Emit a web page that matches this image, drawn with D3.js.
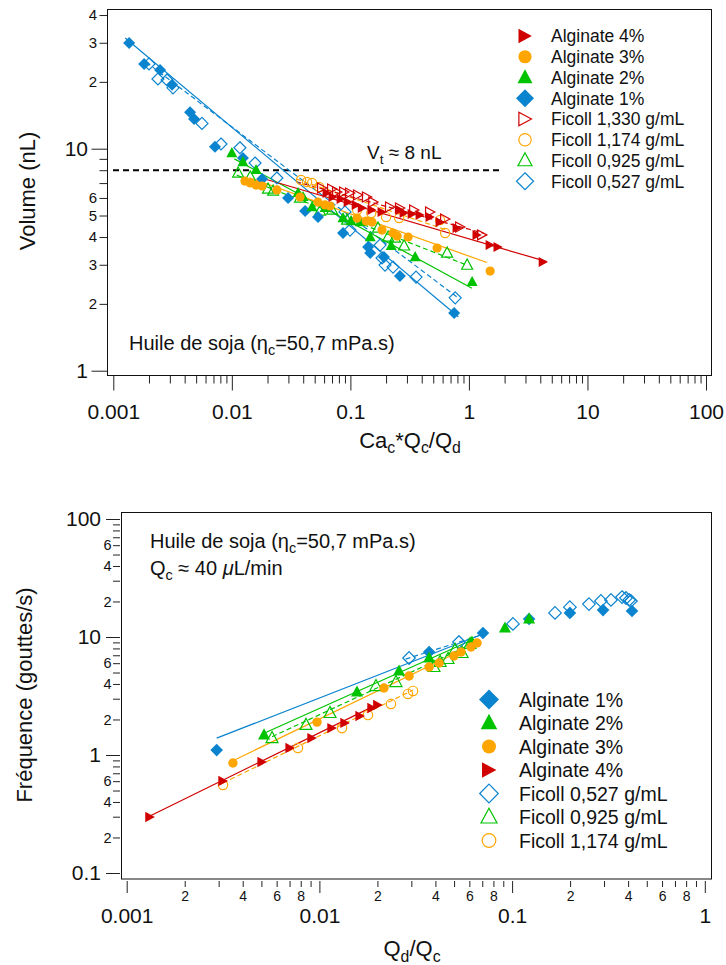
<!DOCTYPE html>
<html><head><meta charset="utf-8">
<script src="https://cdn.jsdelivr.net/npm/d3@7"></script>
<style>
body{margin:0;background:#fff}
svg{display:block}
text{font-family:"Liberation Sans",Arial,sans-serif;fill:#111}
</style>
</head><body>
<svg id="c" width="726" height="965"></svg>
<script>
// ================= DATA =================
// --- Top chart: Volume (nL) vs Ca_c*Q_c/Q_d ---
const topAlg1X = [0.00136,0.00182,0.00248,0.00313,0.00444,0.0048,0.00721,0.0124,0.018,0.0298,0.0415,0.0533,0.0867,0.141,0.147,0.192,0.262,0.75];
const topAlg1Y = [29.9,24.1,22.6,19.4,14.6,13.6,10.2,9.08,7.30,6.0,5.24,4.92,4.17,3.61,3.39,3.25,2.67,1.82];
const topFic527X = [0.0020,0.00238,0.00284,0.00319,0.0056,0.0081,0.0117,0.0157,0.0240,0.0901,0.0993,0.178,0.185,0.196,0.229,0.358,0.766];
const topFic527Y = [24.1,20.6,20.4,18.8,13.0,10.5,10.1,8.62,7.38,5.19,4.30,3.68,3.22,2.99,2.93,2.64,2.13];
const topAlg2X = [0.0100,0.0124,0.0160,0.0362,0.0399,0.0475,0.0612,0.0867,0.1014,0.121,0.147,0.221,0.352,1.064];
const topAlg2Y = [9.56,8.71,8.02,6.32,6.06,5.46,5.41,4.87,4.72,4.67,4.00,3.65,3.25,2.51];
const topFic925X = [0.0113,0.0143,0.0202,0.0223,0.0376,0.0555,0.0701,0.0938,0.171,0.208,0.238,0.284,0.655,0.966];
const topFic925Y = [7.77,7.46,6.58,6.45,6.0,5.24,5.29,4.77,4.39,4.00,3.96,3.65,3.39,2.99];
const topAlg3X = [0.0129,0.0143,0.0160,0.0180,0.0240,0.0376,0.0533,0.0612,0.0675,0.114,0.136,0.152,0.185,0.229,0.248,0.307,0.539,1.51];
const topAlg3Y = [7.15,7.01,6.86,6.79,6.52,6.06,5.75,5.58,5.52,4.87,4.72,4.67,4.30,4.17,4.04,4.00,3.57,2.81];
const topFic1174X = [0.0384,0.0431,0.0475,0.0545,0.114,0.150,0.200,0.258,0.571,0.630];
const topFic1174Y = [7.23,7.08,7.01,6.72,5.29,5.13,4.92,4.87,4.77,4.17];
const topAlg4X = [0.0636,0.0714,0.0835,0.0957,0.112,0.126,0.152,0.185,0.262,0.284,0.332,0.387,0.470,0.571,0.794,1.17,1.51,1.76,4.23];
const topAlg4Y = [6.32,6.06,5.93,5.75,5.58,5.41,5.29,5.19,5.29,5.13,5.08,5.03,4.92,4.67,4.39,4.09,3.68,3.61,3.09];
const topFic1330X = [0.0577,0.0701,0.0773,0.0885,0.0993,0.116,0.138,0.156,0.216,0.262,0.345,0.470,0.630,0.843,1.29];
const topFic1330Y = [6.65,6.58,6.38,6.38,6.32,6.19,6.06,5.75,5.46,5.41,5.29,5.19,4.82,4.44,4.09];
// power-law fit lines (end points, data units)
const fitTopAlg1 = [[0.00126,31.5],[0.815,1.75]];
const fitTopFic527 = [[0.0019,24.5],[0.79,2.15]];
const fitTopAlg2 = [[0.0105,9.0],[1.06,2.35]];
const fitTopFic925 = [[0.011,7.6],[0.96,2.99]];
const fitTopAlg3 = [[0.014,7.4],[1.42,3.07]];
const fitTopFic1174 = [[0.035,7.3],[0.65,4.3]];
const fitTopAlg4 = [[0.019,7.30],[4.54,3.10]];
const fitTopFic1330 = [[0.035,7.1],[1.33,4.16]];
const topVt = 8;

// --- Bottom chart: Fréquence (gouttes/s) vs Q_d/Q_c ---
const botAlg1X = [0.00293,0.0371,0.0706,0.1225,0.1995,0.2965,0.419];
const botAlg1Y = [1.10,7.46,10.8,14.2,16.0,16.9,16.6];
const botFic527X = [0.0292,0.0530,0.101,0.167,0.1995,0.2506,0.289,0.326,0.372,0.390,0.405,0.414];
const botFic527Y = [6.64,9.07,12.9,16.0,17.9,19.0,20.2,20.6,21.8,21.4,20.6,20.2];
const botAlg2X = [0.00516,0.01567,0.0259,0.0371,0.0619,0.0918,0.1225];
const botAlg2Y = [1.48,3.42,5.15,6.64,9.07,11.9,14.2];
const botFic925X = [0.00568,0.00852,0.01135,0.01966,0.02497,0.0393,0.0423,0.0465,0.0505,0.0550,0.0605];
const botFic925Y = [1.39,1.80,2.27,3.84,4.15,5.57,6.14,6.51,7.76,7.32,8.72];
const botAlg3X = [0.00356,0.00972,0.02163,0.0292,0.0371,0.0418,0.0499,0.0543,0.0612,0.0658];
const botAlg3Y = [0.855,1.90,3.70,4.67,5.57,6.02,6.90,7.46,8.23,8.90];
const botFic1174X = [0.00316,0.00774,0.0131,0.01786,0.02352,0.0288,0.0306];
const botFic1174Y = [0.557,1.146,1.69,2.18,2.71,3.29,3.49];
const botAlg4X = [0.00132,0.00316,0.00504,0.00704,0.00915,0.01162,0.01358,0.01625,0.01875,0.0201];
const botAlg4Y = [0.298,0.602,0.872,1.146,1.39,1.69,1.87,2.14,2.50,2.65];
const fitBotAlg1 = [[0.00293,1.39],[0.0706,10.6]];
const fitBotFic527 = [[0.028,6.5],[0.068,10.3]];
const fitBotAlg2 = [[0.00516,1.53],[0.0619,9.44]];
const fitBotFic925 = [[0.00568,1.43],[0.0605,8.57]];
const fitBotAlg3 = [[0.00356,0.895],[0.0658,8.9]];
const fitBotFic1174 = [[0.00316,0.579],[0.0306,3.55]];
const fitBotAlg4 = [[0.00132,0.304],[0.0201,2.70]];

// tick values / labels
const topXMajor = [0.001,0.01,0.1,1,10,100];
const topXMajorLabels = ["0.001","0.01","0.1","1","10","100"];
const topYMajor = [1,10];
const topYMajorLabels = ["1","10"];
const topYMinorLabelled = [2,3,4,5,6,20,30,40];
const botXMajor = [0.001,0.01,0.1,1];
const botXMajorLabels = ["0.001","0.01","0.1","1"];
const botXMinorLabelled = [0.002,0.004,0.006,0.008,0.02,0.04,0.06,0.08,0.2,0.4,0.6,0.8];
const botYMajor = [0.1,1,10,100];
const botYMajorLabels = ["0.1","1","10","100"];
const botYMinorLabelled = [0.2,0.4,0.6,2,4,6,20,40,60];

// legend names
const nAlg1 = "Alginate 1%", nAlg2 = "Alginate 2%", nAlg3 = "Alginate 3%", nAlg4 = "Alginate 4%";
const nF527 = "Ficoll 0,527 g/mL", nF925 = "Ficoll 0,925 g/mL", nF1174 = "Ficoll 1,174 g/mL", nF1330 = "Ficoll 1,330 g/mL";

// ================= STYLE =================
const BLUE = "#0b84cf", GREEN = "#00c300", ORANGE = "#ffa500", RED = "#d10000";
const svg = d3.select("#c");
svg.append("rect").attr("width",726).attr("height",965).attr("fill","#fff");

function symPath(shape, r){
  switch(shape){
    case "diamond": return `M0,${-r}L${r},0L0,${r}L${-r},0Z`;
    case "up": return `M0,${-1.1*r}L${r},${0.75*r}L${-r},${0.75*r}Z`;
    case "right": return `M${0.95*r},0L${-0.9*r},${-r}L${-0.9*r},${r}Z`;
    default: return `M${r},0A${r},${r} 0 1,1 ${-r},0A${r},${r} 0 1,1 ${r},0Z`;
  }
}
function drawSym(g, shape, open, color, r, x, y){
  return g.append("path").attr("d", symPath(shape, r))
    .attr("transform", `translate(${x},${y})`)
    .attr("fill", open ? "none" : color)
    .attr("stroke", open ? color : "none")
    .attr("stroke-width", open ? 1.2 : 0);
}
function rich(g, x, y, parts, size, anchor){
  const t = g.append("text").attr("x",x).attr("y",y).attr("font-size",size)
    .attr("text-anchor", anchor || "start");
  let shifted = 0;
  parts.forEach(p => {
    const ts = t.append("tspan").text(p.t);
    const target = p.sub ? size*0.27 : 0;
    const dy = target - shifted;
    if (dy) ts.attr("dy", dy);
    shifted = target;
    if (p.sub) ts.attr("font-size", size*0.72);
    if (p.it) ts.attr("font-style","italic");
  });
  return t;
}
function minorsFor(majors){
  const out = [];
  majors.slice(0,-1).forEach(m => { for (let k=2;k<=9;k++) out.push(+(k*m).toPrecision(6)); });
  return out;
}
function mantissa(d){ return String(Math.round(d / Math.pow(10, Math.floor(Math.log10(d)+1e-9)))); }
function isIn(arr, d){ return arr.some(v => Math.abs(v-d)/v < 1e-6); }

function styleAxis(g, fontSize){
  g.select(".domain").remove();
  g.selectAll(".tick line").attr("stroke","#222").attr("stroke-width",1);
  g.selectAll(".tick text").attr("fill","#111").attr("font-size",fontSize)
    .attr("font-family",'"Liberation Sans",Arial,sans-serif');
}

// ================= TOP CHART =================
(function(){
  const x = d3.scaleLog().domain([0.001,100]).range([113.3,706]);
  const y = d3.scaleLog().domain([1,40]).range([370.7,370.7-222*Math.log10(40)]);
  const g = svg.append("g");
  const F = {l:107.5,t:9.5,r:711.5,b:375.5};

  // x axis
  const gx1 = g.append("g").attr("transform",`translate(0,${F.b})`)
    .call(d3.axisBottom(x).tickValues(minorsFor(topXMajor)).tickSize(8).tickFormat(""));
  styleAxis(gx1, 14);
  const gx2 = g.append("g").attr("transform",`translate(0,${F.b})`)
    .call(d3.axisBottom(x).tickValues(topXMajor).tickSize(15).tickPadding(14)
      .tickFormat((d,i)=>topXMajorLabels[i]));
  styleAxis(gx2, 21);

  // y axis
  const yMinors = [2,3,4,5,6,7,8,9,20,30,40];
  const gy1 = g.append("g").attr("transform",`translate(${F.l},0)`)
    .call(d3.axisLeft(y).tickValues(yMinors).tickSize(8).tickPadding(2.5)
      .tickFormat(d => isIn(topYMinorLabelled,d) ? mantissa(d) : ""));
  styleAxis(gy1, 15);
  const gy2 = g.append("g").attr("transform",`translate(${F.l},0)`)
    .call(d3.axisLeft(y).tickValues(topYMajor).tickSize(16).tickPadding(3.5)
      .tickFormat((d,i)=>topYMajorLabels[i]));
  styleAxis(gy2, 21);

  g.append("rect").attr("x",F.l).attr("y",F.t).attr("width",F.r-F.l).attr("height",F.b-F.t)
    .attr("fill","none").attr("stroke","#111").attr("stroke-width",1);

  // titles
  g.append("text").attr("transform","translate(35,191) rotate(-90)").attr("text-anchor","middle")
    .attr("font-size",22).text("Volume (nL)");
  rich(g, 410, 447.5, [{t:"Ca"},{t:"c",sub:true},{t:"*Q"},{t:"c",sub:true},{t:"/Q"},{t:"d",sub:true}], 22, "middle");

  // threshold line
  g.append("line").attr("x1",113).attr("x2",502).attr("y1",y(topVt)).attr("y2",y(topVt))
    .attr("stroke","#000").attr("stroke-width",2).attr("stroke-dasharray","6,4");
  rich(g, 367, 159, [{t:"V"},{t:"t",sub:true},{t:" ≈ 8 nL"}], 19);
  rich(g, 129, 350, [{t:"Huile de soja ("},{t:"η"},{t:"c",sub:true},{t:"=50,7 mPa.s)"}], 20);

  const series = [
    {n:nF527, xs:topFic527X, ys:topFic527Y, fit:fitTopFic527, c:BLUE, s:"diamond", open:true, r:6},
    {n:nF925, xs:topFic925X, ys:topFic925Y, fit:fitTopFic925, c:GREEN, s:"up", open:true, r:5.5},
    {n:nF1174, xs:topFic1174X, ys:topFic1174Y, fit:fitTopFic1174, c:ORANGE, s:"circle", open:true, r:4.6},
    {n:nF1330, xs:topFic1330X, ys:topFic1330Y, fit:fitTopFic1330, c:RED, s:"right", open:true, r:5},
    {n:nAlg1, xs:topAlg1X, ys:topAlg1Y, fit:fitTopAlg1, c:BLUE, s:"diamond", open:false, r:6},
    {n:nAlg2, xs:topAlg2X, ys:topAlg2Y, fit:fitTopAlg2, c:GREEN, s:"up", open:false, r:5.5},
    {n:nAlg3, xs:topAlg3X, ys:topAlg3Y, fit:fitTopAlg3, c:ORANGE, s:"circle", open:false, r:4.6},
    {n:nAlg4, xs:topAlg4X, ys:topAlg4Y, fit:fitTopAlg4, c:RED, s:"right", open:false, r:5},
  ];
  const line = d3.line().x(d=>x(d[0])).y(d=>y(d[1]));
  series.forEach(S => {
    g.append("path").attr("d", line(S.fit)).attr("fill","none").attr("stroke",S.c)
      .attr("stroke-width",1.2).attr("stroke-dasharray", S.open ? "5,3" : null);
  });
  series.forEach(S => {
    S.xs.forEach((xv,i) => drawSym(g, S.s, S.open, S.c, S.r, x(xv), y(S.ys[i])));
  });

  // legend
  const leg = [
    {n:nAlg4, c:RED, s:"right", open:false, r:7.2},
    {n:nAlg3, c:ORANGE, s:"circle", open:false, r:6.6},
    {n:nAlg2, c:GREEN, s:"up", open:false, r:7.5},
    {n:nAlg1, c:BLUE, s:"diamond", open:false, r:9},
    {n:nF1330, c:RED, s:"right", open:true, r:6.8},
    {n:nF1174, c:ORANGE, s:"circle", open:true, r:6.2},
    {n:nF925, c:GREEN, s:"up", open:true, r:7},
    {n:nF527, c:BLUE, s:"diamond", open:true, r:8.5},
  ];
  leg.forEach((L,i) => {
    const cy = 36 + 20.75*i;
    drawSym(g, L.s, L.open, L.c, L.r, 525, cy);
    g.append("text").attr("x",551).attr("y",cy).attr("dy","0.36em").attr("font-size",17.5).text(L.n);
  });
})();

// ================= BOTTOM CHART =================
(function(){
  const x = d3.scaleLog().domain([0.001,1]).range([126.7,704.8]);
  const y = d3.scaleLog().domain([0.1,100]).range([873,519]);
  const g = svg.append("g");
  const F = {l:121,t:512.5,r:711,b:879};

  const gx1 = g.append("g").attr("transform",`translate(0,${F.b+2})`)
    .call(d3.axisBottom(x).tickValues(minorsFor(botXMajor)).tickSize(6).tickPadding(4.5)
      .tickFormat(d => isIn(botXMinorLabelled,d) ? mantissa(d) : ""));
  styleAxis(gx1, 14);
  const gx2 = g.append("g").attr("transform",`translate(0,${F.b+2})`)
    .call(d3.axisBottom(x).tickValues(botXMajor).tickSize(12).tickPadding(15.5)
      .tickFormat((d,i)=>botXMajorLabels[i]));
  styleAxis(gx2, 21);

  const gy1 = g.append("g").attr("transform",`translate(${F.l-1},0)`)
    .call(d3.axisLeft(y).tickValues(minorsFor(botYMajor)).tickSize(7).tickPadding(1.5)
      .tickFormat(d => isIn(botYMinorLabelled,d) ? mantissa(d) : ""));
  styleAxis(gy1, 14.5);
  const gy2 = g.append("g").attr("transform",`translate(${F.l-1},0)`)
    .call(d3.axisLeft(y).tickValues(botYMajor).tickSize(14).tickPadding(5)
      .tickFormat((d,i)=>botYMajorLabels[i]));
  styleAxis(gy2, 21);

  g.append("rect").attr("x",F.l+0.5).attr("y",F.t).attr("width",F.r-F.l).attr("height",F.b-F.t)
    .attr("fill","none").attr("stroke","#111").attr("stroke-width",1);

  g.append("text").attr("transform","translate(32,695) rotate(-90)").attr("text-anchor","middle")
    .attr("font-size",22).text("Fréquence (gouttes/s)");
  rich(g, 412, 956, [{t:"Q"},{t:"d",sub:true},{t:"/Q"},{t:"c",sub:true}], 22, "middle");

  rich(g, 150, 548, [{t:"Huile de soja ("},{t:"η"},{t:"c",sub:true},{t:"=50,7 mPa.s)"}], 20);
  rich(g, 150, 575, [{t:"Q"},{t:"c",sub:true},{t:" ≈ 40 "},{t:"μ",it:true},{t:"L/min"}], 20);

  const series = [
    {n:nF527, xs:botFic527X, ys:botFic527Y, fit:fitBotFic527, c:BLUE, s:"diamond", open:true, r:6.3},
    {n:nF925, xs:botFic925X, ys:botFic925Y, fit:fitBotFic925, c:GREEN, s:"up", open:true, r:6},
    {n:nF1174, xs:botFic1174X, ys:botFic1174Y, fit:fitBotFic1174, c:ORANGE, s:"circle", open:true, r:4.7},
    {n:nAlg1, xs:botAlg1X, ys:botAlg1Y, fit:fitBotAlg1, c:BLUE, s:"diamond", open:false, r:6.3},
    {n:nAlg2, xs:botAlg2X, ys:botAlg2Y, fit:fitBotAlg2, c:GREEN, s:"up", open:false, r:6},
    {n:nAlg3, xs:botAlg3X, ys:botAlg3Y, fit:fitBotAlg3, c:ORANGE, s:"circle", open:false, r:4.7},
    {n:nAlg4, xs:botAlg4X, ys:botAlg4Y, fit:fitBotAlg4, c:RED, s:"right", open:false, r:5.2},
  ];
  const line = d3.line().x(d=>x(d[0])).y(d=>y(d[1]));
  series.forEach(S => {
    g.append("path").attr("d", line(S.fit)).attr("fill","none").attr("stroke",S.c)
      .attr("stroke-width",1.2).attr("stroke-dasharray", S.open ? "5,3" : null);
  });
  series.forEach(S => {
    S.xs.forEach((xv,i) => drawSym(g, S.s, S.open, S.c, S.r, x(xv), y(S.ys[i])));
  });

  const leg = [
    {n:nAlg1, c:BLUE, s:"diamond", open:false, r:10},
    {n:nAlg2, c:GREEN, s:"up", open:false, r:8.3},
    {n:nAlg3, c:ORANGE, s:"circle", open:false, r:7},
    {n:nAlg4, c:RED, s:"right", open:false, r:7.8},
    {n:nF527, c:BLUE, s:"diamond", open:true, r:9.3},
    {n:nF925, c:GREEN, s:"up", open:true, r:8},
    {n:nF1174, c:ORANGE, s:"circle", open:true, r:6.8},
  ];
  leg.forEach((L,i) => {
    const cy = 699.5 + 23.5*i;
    drawSym(g, L.s, L.open, L.c, L.r, 489, cy);
    g.append("text").attr("x",519).attr("y",cy).attr("dy","0.36em").attr("font-size",19.5).text(L.n);
  });
})();
</script>
</body></html>
